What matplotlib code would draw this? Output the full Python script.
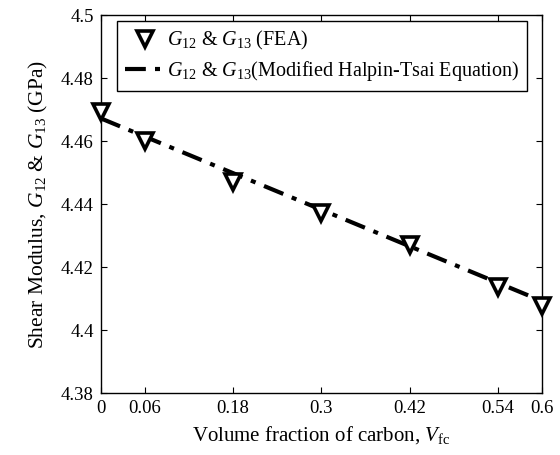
import matplotlib
matplotlib.use("Agg")
import matplotlib.pyplot as plt

plt.rcParams["font.family"] = "Liberation Serif"
plt.rcParams["mathtext.fontset"] = "custom"
plt.rcParams["mathtext.rm"] = "Liberation Serif"
plt.rcParams["mathtext.it"] = "Liberation Serif:italic"

vf = [0, 0.06, 0.18, 0.3, 0.42, 0.54, 0.6]
g_fea = [4.4693, 4.4600, 4.4469, 4.4372, 4.4270, 4.4137, 4.4075]
g_halpin = [4.4672, 4.4614, 4.4498, 4.4382, 4.4266, 4.4150, 4.4092]

xticks = [0, 0.06, 0.18, 0.3, 0.42, 0.54, 0.6]
xticklabels = ["0", "0.06", "0.18", "0.3", "0.42", "0.54", "0.6"]
yticks = [4.38, 4.40, 4.42, 4.44, 4.46, 4.48, 4.50]
yticklabels = ["4.38", "4.4", "4.42", "4.44", "4.46", "4.48", "4.5"]

fig = plt.figure(figsize=(5.6, 4.55), dpi=100)
ax = fig.add_axes([0.180, 0.136, 0.788, 0.831])

ax.plot(vf, g_fea, linestyle="none", marker="v", markersize=12,
        markerfacecolor="white", markeredgecolor="black", markeredgewidth=2.6,
        label=r"$G_{12}$ & $G_{13}$ (FEA)", zorder=3, clip_on=False)
ax.plot(vf, g_halpin, color="black", linewidth=3, dashes=(5, 2.2, 1.2, 2.2),
        label=r"$G_{12}$ & $G_{13}$(Modified Halpin-Tsai Equation)", zorder=2)

ax.set_xlim(0, 0.6)
ax.set_ylim(4.38, 4.5)
ax.set_xticks(xticks)
ax.set_xticklabels(xticklabels)
ax.set_yticks(yticks)
ax.set_yticklabels(yticklabels)
ax.tick_params(direction="in", length=4, width=0.8, top=True, right=True,
               labelsize=13.5, pad=5)
for sp in ax.spines.values():
    sp.set_linewidth(1.0)

ax.set_xlabel(r"Volume fraction of carbon, $V_{\mathrm{fc}}$", fontsize=15, labelpad=5)
ax.set_ylabel(r"Shear Modulus, $G_{12}$ & $G_{13}$ (GPa)", fontsize=15.5, labelpad=8)

leg = ax.legend(loc="upper left", bbox_to_anchor=(0.036, 0.984), fontsize=14.5,
                fancybox=False, edgecolor="black", framealpha=1,
                handlelength=2.0, handletextpad=0.1, borderaxespad=0,
                labelspacing=0.35, borderpad=0.4)
leg.get_frame().set_linewidth(1.0)

fig.savefig("out.png", dpi=100)
